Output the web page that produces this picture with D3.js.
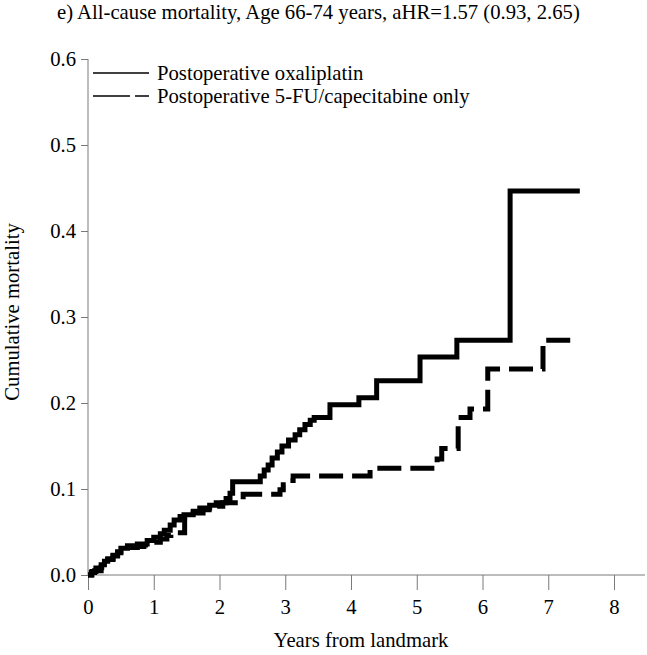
<!DOCTYPE html>
<html>
<head>
<meta charset="utf-8">
<script src="https://cdn.jsdelivr.net/npm/d3@7"></script>
<style>
  body { margin: 0; background: #fff; }
  svg { display: block; }
  text { font-family: "Liberation Serif", "Times New Roman", serif; fill: #000; }
</style>
</head>
<body>
<svg id="chart" width="647" height="655"></svg>
<script>
// ---- Data (step points: [years, cumulative mortality]) ----
const titleText = "e) All-cause mortality, Age 66-74 years, aHR=1.57 (0.93, 2.65)";
const seriesNames = ["Postoperative oxaliplatin", "Postoperative 5-FU/capecitabine only"];
const xTicks = [0, 1, 2, 3, 4, 5, 6, 7, 8];
const yTicks = [0.0, 0.1, 0.2, 0.3, 0.4, 0.5, 0.6];

const oxaliplatin = [
  [0,0],[0.06,0.004],[0.12,0.008],[0.2,0.012],[0.25,0.016],[0.3,0.019],[0.38,0.023],
  [0.45,0.027],[0.5,0.031],[0.6,0.034],[0.75,0.036],[0.9,0.040],[1.0,0.044],[1.1,0.048],
  [1.16,0.052],[1.25,0.058],[1.31,0.064],[1.4,0.068],[1.46,0.070],[1.6,0.074],[1.7,0.078],
  [1.85,0.081],[1.95,0.084],[2.1,0.089],[2.16,0.095],[2.2,0.1085],[2.62,0.115],[2.68,0.122],
  [2.74,0.128],[2.8,0.136],[2.88,0.143],[2.95,0.150],[3.05,0.157],[3.15,0.163],[3.22,0.169],
  [3.3,0.175],[3.38,0.180],[3.44,0.183],[3.68,0.198],[4.12,0.206],[4.39,0.226],[5.05,0.2535],
  [5.61,0.273],[6.42,0.4465],[7.48,0.4465]
];
const fluorouracil = [
  [0,0],[0.05,0.003],[0.1,0.005],[0.2,0.009],[0.25,0.013],[0.3,0.018],[0.38,0.022],
  [0.45,0.026],[0.5,0.029],[0.6,0.032],[0.75,0.033],[0.85,0.035],[0.95,0.038],[1.1,0.042],
  [1.2,0.046],[1.26,0.049],[1.47,0.066],[1.6,0.072],[1.75,0.076],[1.9,0.080],[2.05,0.084],
  [2.24,0.087],[2.36,0.094],[2.92,0.099],[2.97,0.105],[3.05,0.110],[3.12,0.115],[4.29,0.124],
  [5.31,0.135],[5.38,0.147],[5.63,0.183],[5.81,0.193],[6.08,0.2395],[6.92,0.273],[7.38,0.273]
];

// ---- Layout ----
const svg = d3.select("#chart");
const x0 = 88, x8 = 614, yTop = 59, yBot = 575;
const x = d3.scaleLinear().domain([0, 8]).range([x0, x8]);
const y = d3.scaleLinear().domain([0, 0.6]).range([yBot, yTop]);
const axisColor = "#7a7a7a";
const fs = 20.7;

// Title
svg.append("text").attr("x", 57).attr("y", 19).attr("text-anchor", "start")
  .attr("font-size", fs).text(titleText);

// X axis
const gx = svg.append("g").attr("transform", `translate(0,${yBot})`)
  .call(d3.axisBottom(x).tickValues(xTicks).tickSize(15).tickPadding(9).tickFormat(d3.format("d")));
gx.select(".domain").remove();
gx.selectAll(".tick line").attr("stroke", axisColor);
gx.selectAll(".tick text").attr("font-size", fs).attr("font-family", "Liberation Serif, serif").attr("fill", "#000");
gx.append("line").attr("x1", x0).attr("x2", 645).attr("y1", 0).attr("y2", 0).attr("stroke", axisColor);

// Y axis
const gy = svg.append("g").attr("transform", `translate(${x0},0)`)
  .call(d3.axisLeft(y).tickValues(yTicks).tickSize(7).tickPadding(5).tickFormat(d3.format(".1f")));
gy.select(".domain").remove();
gy.selectAll(".tick line").attr("stroke", axisColor);
gy.selectAll(".tick text").attr("font-size", fs).attr("font-family", "Liberation Serif, serif").attr("fill", "#000");
gy.append("line").attr("x1", 0).attr("x2", 0).attr("y1", yTop).attr("y2", yBot).attr("stroke", axisColor);

// Axis titles
svg.append("text").attr("x", 361).attr("y", 647).attr("text-anchor", "middle")
  .attr("font-size", fs).text("Years from landmark");
svg.append("text").attr("transform", `translate(19,${312}) rotate(-90)`)
  .attr("text-anchor", "middle").attr("font-size", fs).text("Cumulative mortality");

// Curves
const line = d3.line().x(d => x(d[0])).y(d => y(d[1])).curve(d3.curveStepAfter);
svg.append("path").datum(oxaliplatin).attr("d", line)
  .attr("fill", "none").attr("stroke", "#000").attr("stroke-width", 5)
  .attr("stroke-linejoin", "miter");
svg.append("path").datum(fluorouracil).attr("d", line)
  .attr("fill", "none").attr("stroke", "#000").attr("stroke-width", 5)
  .attr("stroke-linejoin", "miter").attr("stroke-dasharray", "24,9");

// Legend
const legend = svg.append("g");
legend.append("line").attr("x1", 93).attr("x2", 149).attr("y1", 73).attr("y2", 73)
  .attr("stroke", "#000").attr("stroke-width", 1.3);
legend.append("text").attr("x", 157).attr("y", 80).attr("font-size", fs).text(seriesNames[0]);
legend.append("line").attr("x1", 93).attr("x2", 149).attr("y1", 96).attr("y2", 96)
  .attr("stroke", "#000").attr("stroke-width", 1.3).attr("stroke-dasharray", "37,5");
legend.append("text").attr("x", 157).attr("y", 103).attr("font-size", fs).text(seriesNames[1]);
</script>
</body>
</html>
